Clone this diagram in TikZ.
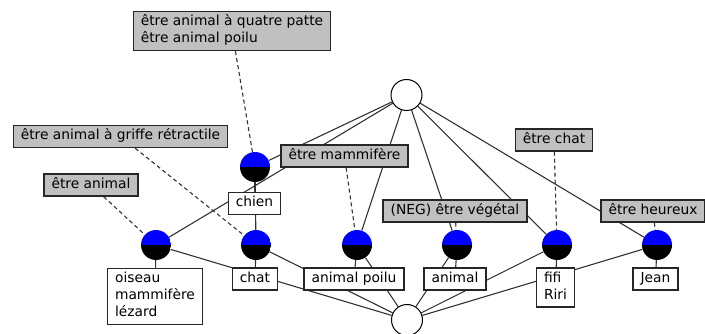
\documentclass[tikz,border=0pt]{standalone}
\usepackage{fontspec}
\setmainfont{DejaVu Sans}
\usetikzlibrary{backgrounds}
\definecolor{lblgray}{RGB}{192,192,192}
\definecolor{edgecol}{RGB}{50,50,50}
\begin{document}
\begin{tikzpicture}[x=1pt,y=-1pt,
  txt/.style={font=\fontsize{13.8}{17}\selectfont},
  intentbox/.style={txt, draw=black!85, line width=1.5pt, fill=lblgray, inner xsep=7.5pt, inner ysep=2.5pt, align=left},
  extentbox/.style={txt, draw=black!85, line width=1.5pt, fill=white, inner xsep=7.5pt, inner ysep=2.5pt, align=left},
  concept/.style={circle, minimum size=30pt, inner sep=0pt,
    path picture={
      \fill[blue] (path picture bounding box.north west) rectangle (path picture bounding box.east);
      \fill[black] (path picture bounding box.west) rectangle (path picture bounding box.south east);
    }},
  emptyconcept/.style={circle, draw=black, line width=1pt, fill=white, minimum size=31pt, inner sep=0pt},
  lattice/.style={draw=edgecol, line width=1.1pt},
  intentline/.style={draw=edgecol, line width=1.1pt, dashed, dash pattern=on 4pt off 3pt},
  extentline/.style={draw=edgecol, line width=1.1pt}
]
\useasboundingbox (0,0) rectangle (705,334);

% concept circles
\node[emptyconcept] (top) at (406.5,95) {};
\node[emptyconcept] (bot) at (407,320) {};
\node[concept] (cchien) at (255,167) {};
\node[concept] (canimal) at (156,245) {};
\node[concept] (cchat) at (256,245) {};
\node[concept] (cmamm) at (357,245) {};
\node[concept] (cveg) at (457,245) {};
\node[concept] (cfifi) at (557,245) {};
\node[concept] (cjean) at (657,245) {};

% intent labels
\node[intentbox] (iquatre) at (232,31) {être animal à quatre patte\strut\\être animal poilu\strut};
\node[intentbox] (igriffe) at (120.5,136.5) {être animal à griffe rétractile\strut};
\node[intentbox] (ianimal) at (91,185) {être animal\strut};
\node[intentbox] (imamm) at (344.5,156) {être mammifère\strut};
\node[intentbox] (iveg) at (455,211) {(NEG) être végétal\strut};
\node[intentbox] (ichat) at (554,140) {être chat\strut};
\node[intentbox] (iheur) at (653,211) {être heureux\strut};

% extent labels
\node[extentbox] (echien) at (254.5,203.5) {chien\strut};
\node[extentbox] (eoiseau) at (155,296.5) {oiseau\strut\\mammifère\strut\\lézard\strut};
\node[extentbox] (echat) at (255,279) {chat\strut};
\node[extentbox] (epoilu) at (354,279) {animal poilu\strut};
\node[extentbox] (eanimal) at (455,279) {animal\strut};
\node[extentbox] (efifi) at (555.5,287.5) {fifi\strut\\Riri\strut};
\node[extentbox] (ejean) at (655.5,279) {Jean\strut};

\begin{scope}[on background layer]
  % lattice edges
  \draw[lattice] (top) -- (cchien);
  \draw[lattice] (top) -- (canimal);
  \draw[lattice] (top) -- (cmamm);
  \draw[lattice] (top) -- (cveg);
  \draw[lattice] (top) -- (cfifi);
  \draw[lattice] (top) -- (cjean);
  \draw[lattice] (cchien) -- (cchat);
  \draw[lattice] (canimal) -- (bot);
  \draw[lattice] (cchat) -- (bot);
  \draw[lattice] (cmamm) -- (bot);
  \draw[lattice] (cveg) -- (bot);
  \draw[lattice] (cfifi) -- (bot);
  \draw[lattice] (cjean) -- (bot);
  % intent connectors
  \draw[intentline] (iquatre) -- (cchien);
  \draw[intentline] (igriffe) -- (cchat);
  \draw[intentline] (ianimal) -- (canimal);
  \draw[intentline] (imamm) -- (cmamm);
  \draw[intentline] (iveg) -- (cveg);
  \draw[intentline] (ichat) -- (cfifi);
  \draw[intentline] (iheur) -- (cjean);
  % extent connectors
  \draw[extentline] (cchien) -- (echien);
  \draw[extentline] (canimal) -- (eoiseau);
  \draw[extentline] (cchat) -- (echat);
  \draw[extentline] (cmamm) -- (epoilu);
  \draw[extentline] (cveg) -- (eanimal);
  \draw[extentline] (cfifi) -- (efifi);
  \draw[extentline] (cjean) -- (ejean);
\end{scope}
\end{tikzpicture}
\end{document}
